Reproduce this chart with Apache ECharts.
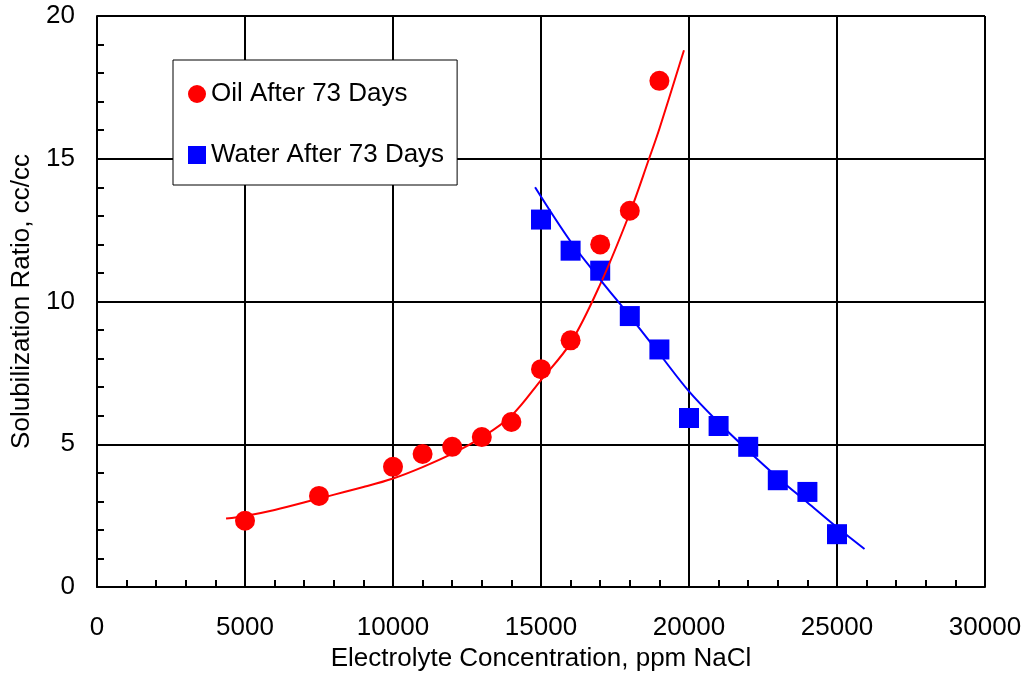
<!DOCTYPE html>
<html>
<head>
<meta charset="utf-8">
<script src="https://cdn.jsdelivr.net/npm/echarts@6/dist/echarts.min.js"></script>
<style>
  html, body { margin: 0; padding: 0; background: #fff; }
  #chart { width: 1026px; height: 677px; }
</style>
</head>
<body>
<div id="chart"></div>
<script>
// Measured solubilization ratios (cc/cc) versus salinity (ppm NaCl)
const oilX = [5000, 7500, 10000, 11000, 12000, 13000, 14000, 15000, 16000, 17000, 18000, 19000];
const oilY = [2.32, 3.19, 4.21, 4.66, 4.91, 5.25, 5.78, 7.63, 8.64, 12.0, 13.18, 17.73];

const waterX = [15000, 16000, 17000, 18000, 19000, 20000, 21000, 22000, 23000, 24000, 25000];
const waterY = [12.87, 11.78, 11.08, 9.49, 8.32, 5.92, 5.64, 4.91, 3.74, 3.33, 1.85];

// Fitted trend curves through each data set
const oilFitX = [4360, 5000, 6000, 7500, 9000, 10000, 11000, 12000, 13000, 14000, 15000, 16000, 17000, 18000, 18650, 19000, 19830];
const oilFitY = [2.40, 2.49, 2.70, 3.10, 3.50, 3.80, 4.20, 4.67, 5.24, 6.00, 7.25, 8.55, 10.6, 13.1, 15.0, 16.05, 18.8];

const waterFitX = [14800, 16000, 17000, 18000, 19000, 20000, 21000, 22000, 23000, 24000, 25000, 25930];
const waterFitY = [14.0, 12.1, 10.77, 9.49, 8.17, 6.85, 5.76, 4.77, 3.83, 2.96, 2.09, 1.33];

const xTicks = { min: 0, max: 30000, step: 5000 };
const yTicks = { min: 0, max: 20, step: 5 };

const names = {
  oil: 'Oil After 73 Days',
  water: 'Water After 73 Days',
  xTitle: 'Electrolyte Concentration, ppm NaCl',
  yTitle: 'Solubilization Ratio, cc/cc'
};

const pairs = (xs, ys) => xs.map((x, i) => [x, ys[i]]);

const FONT = '"Liberation Sans", Arial, sans-serif';
const RED = '#ff0000';
const BLUE = '#0000ff';

const axisCommon = {
  axisLine: { show: true, onZero: false, lineStyle: { color: '#000', width: 2 } },
  axisTick: { show: false, inside: true },
  minorTick: { show: true, splitNumber: 5, length: 7, lineStyle: { color: '#000', width: 2 } },
  splitLine: { show: true, lineStyle: { color: '#000', width: 2 } },
  minorSplitLine: { show: false },
  axisLabel: { color: '#000', fontFamily: FONT, fontSize: 26, margin: 22, formatter: v => String(v) },
  nameTextStyle: { color: '#000', fontFamily: FONT, fontSize: 26 }
};

const chart = echarts.init(document.getElementById('chart'), null, { renderer: 'canvas' });

chart.setOption({
  backgroundColor: '#fff',
  animation: false,
  grid: { left: 97, right: 41, top: 16, bottom: 89, containLabel: false },
  xAxis: Object.assign({}, axisCommon, {
    type: 'value',
    min: xTicks.min, max: xTicks.max, interval: xTicks.step,
    name: names.xTitle, nameLocation: 'middle', nameGap: 59,
    axisLabel: Object.assign({}, axisCommon.axisLabel, { margin: 28 })
  }),
  yAxis: Object.assign({}, axisCommon, {
    type: 'value',
    min: yTicks.min, max: yTicks.max, interval: yTicks.step,
    name: names.yTitle, nameLocation: 'middle', nameGap: 62
  }),
  legend: {
    orient: 'vertical',
    left: 173, top: 60,
    padding: [19, 13, 15, 15],
    itemGap: 31,
    itemWidth: 18, itemHeight: 18,
    backgroundColor: '#fff',
    borderColor: '#000', borderWidth: 1,
    textStyle: { color: '#000', fontFamily: FONT, fontSize: 26, lineHeight: 30 },
    data: [
      { name: names.oil, icon: 'circle' },
      { name: names.water, icon: 'rect' }
    ],
    z: 10
  },
  series: [
    {
      name: names.oil, type: 'scatter',
      data: pairs(oilX, oilY),
      symbol: 'circle', symbolSize: 20,
      itemStyle: { color: RED, opacity: 1 },
      z: 3
    },
    {
      name: names.water, type: 'scatter',
      data: pairs(waterX, waterY),
      symbol: 'rect', symbolSize: 20,
      itemStyle: { color: BLUE, opacity: 1 },
      z: 3
    },
    {
      name: 'oil-fit', type: 'line',
      data: pairs(oilFitX, oilFitY),
      smooth: 0.35, showSymbol: false,
      lineStyle: { color: RED, width: 2 },
      itemStyle: { color: RED },
      z: 4
    },
    {
      name: 'water-fit', type: 'line',
      data: pairs(waterFitX, waterFitY),
      smooth: 0.35, showSymbol: false,
      lineStyle: { color: BLUE, width: 2 },
      itemStyle: { color: BLUE },
      z: 4
    }
  ]
});
</script>
</body>
</html>
